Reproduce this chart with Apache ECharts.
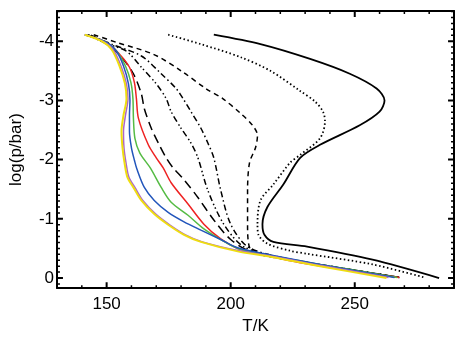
<!DOCTYPE html>
<html>
<head>
<meta charset="utf-8">
<script src="https://cdn.jsdelivr.net/npm/echarts@6/dist/echarts.min.js"></script>
<style>
	html, body { margin: 0; padding: 0; background: #fff; }
	#chart { width: 463px; height: 340px; }
</style>
</head>
<body>
<div id="chart"></div>
<script>
	// tick positions
	var xMajorTicks = [150, 200, 250];
	var xMinorTicks = [140, 160, 170, 180, 190, 210, 220, 230, 240, 260, 270, 280];
	var yMajorTicks = [-4, -3, -2, -1, 0];
	var yMinorTicks = [];
	for (var i = -45; i <= 1; i++) if (i % 10 !== 0) yMinorTicks.push(i / 10);

	// profiles: [T (K), log(p/bar)]
	var solidLine = [[193.2,-4.11],[212,-3.95],[232,-3.7],[248,-3.45],[258.8,-3.2],[262,-3.0],[260,-2.81],[252,-2.58],[236,-2.25],[228,-2.03],[221.2,-1.58],[214.8,-1.2],[212.8,-0.91],[213.6,-0.73],[217.2,-0.61],[230.8,-0.53],[257.2,-0.31],[284,0.0]];
	var dottedLine = [[174.8,-4.11],[188,-3.95],[204,-3.73],[216,-3.5],[228,-3.16],[234,-2.98],[237.2,-2.81],[238,-2.65],[236,-2.36],[228,-2.08],[224,-1.95],[217.2,-1.58],[212,-1.31],[210.8,-0.91],[211.2,-0.73],[214.8,-0.58],[224,-0.46],[230.8,-0.41],[257.2,-0.23],[278,-0.01]];
	var dashedLine = [[144.8,-4.11],[154,-3.98],[168.8,-3.78],[180,-3.5],[190,-3.2],[196.8,-3.03],[204,-2.78],[208.8,-2.58],[210.8,-2.41],[210,-2.2],[207.6,-1.95],[206.8,-1.48],[206.8,-0.91],[208,-0.48],[220,-0.33],[240,-0.2],[268,-0.01]];
	var dashDotLine = [[143.6,-4.1],[152,-3.95],[164,-3.75],[172,-3.45],[178,-3.2],[180.8,-3.03],[184,-2.81],[188,-2.53],[190.8,-2.28],[193.2,-2.03],[196,-1.48],[200,-0.91],[206.8,-0.53],[220,-0.35],[240,-0.2],[268,-0.01]];
	var dashDotDotLine = [[142.8,-4.1],[150,-3.96],[158,-3.83],[164,-3.56],[170,-3.28],[174,-3.03],[176,-2.81],[180,-2.53],[184,-2.28],[186.8,-2.03],[190.8,-1.48],[197.2,-0.91],[205.2,-0.53],[220,-0.35],[240,-0.2],[268,-0.01]];
	var longDashLine = [[142.4,-4.11],[150,-3.95],[156,-3.73],[160.8,-3.45],[164,-3.11],[165.2,-2.86],[168,-2.53],[171.2,-2.25],[174,-2.03],[176.8,-1.86],[181.2,-1.66],[186.8,-1.36],[193.2,-0.98],[200,-0.65],[208,-0.45],[228,-0.28],[268,-0.01]];
	var redLine = [[141.2,-4.11],[150,-3.98],[155.2,-3.78],[159.2,-3.56],[161.2,-3.3],[162,-3.03],[162.8,-2.7],[166.8,-2.25],[170,-2.03],[172.8,-1.86],[176,-1.61],[182.8,-1.25],[189.2,-0.91],[196,-0.66],[202.8,-0.5],[212,-0.4],[228,-0.26],[268,-0.01]];
	var greenLine = [[141.2,-4.11],[150,-3.98],[154.4,-3.81],[157.6,-3.58],[159.8,-3.3],[160.6,-3.03],[160.8,-2.7],[161.4,-2.36],[163.4,-2.11],[167.6,-1.86],[172,-1.53],[176,-1.28],[182.8,-1.06],[189.2,-0.83],[196,-0.65],[202.8,-0.5],[216,-0.38],[236,-0.23],[267.2,-0.01]];
	var blueLine = [[141.2,-4.11],[150,-3.98],[154,-3.83],[156.8,-3.58],[158.8,-3.28],[159.4,-3.0],[159.2,-2.75],[159.2,-2.48],[160,-2.2],[161.2,-1.99],[162.2,-1.84],[165.2,-1.53],[169.2,-1.31],[174.8,-1.11],[181.2,-0.95],[188,-0.81],[196,-0.65],[202.8,-0.51],[216,-0.39],[236,-0.23],[266,-0.01]];
	var purpleLine = [[141.2,-4.11],[148.4,-4.0],[152.6,-3.86],[155.8,-3.58],[158,-3.28],[158.6,-3.03],[157.6,-2.75],[156.8,-2.48],[157,-2.2],[157.8,-1.95],[159,-1.7],[161.4,-1.53],[164.6,-1.31],[169.8,-1.08],[175.4,-0.9],[181.8,-0.73],[188.6,-0.61],[203.4,-0.46],[216.6,-0.37],[236.6,-0.21],[263.6,-0.01]];
	var yellowLine = [[141.2,-4.11],[148,-4.0],[152,-3.86],[155.2,-3.58],[157.4,-3.28],[158,-3.03],[156.8,-2.75],[156,-2.48],[156.4,-2.2],[157.2,-1.95],[158.4,-1.7],[160.8,-1.53],[164,-1.31],[169.2,-1.08],[174.8,-0.9],[181.2,-0.73],[188,-0.61],[202.8,-0.45],[216,-0.36],[236,-0.2],[262.8,0.0]];

	var fontName = 'Liberation Sans, Arial, sans-serif';
	var xMin = 130, xMax = 290;
	var yMin = -4.51, yMax = 0.17;

	function profile(data, color, dash, width) {
		return {
			type: 'line',
			data: data,
			xAxisIndex: 0,
			yAxisIndex: 0,
			symbol: 'none',
			smooth: 0.3,
			lineStyle: { color: color, width: width || 1.5, type: dash || 'solid' }
		};
	}

	// inward ticks on all four sides as broken line segments (length in axis units)
	function tickLines(xTicks, yTicks, lenX, lenY, width) {
		var d = [];
		xTicks.forEach(function (v) {
			d.push([v, yMax], [v, yMax - lenY], null);
			d.push([v, yMin], [v, yMin + lenY], null);
		});
		yTicks.forEach(function (v) {
			d.push([xMin, v], [xMin + lenX, v], null);
			d.push([xMax, v], [xMax - lenX, v], null);
		});
		return {
			type: 'line',
			data: d,
			xAxisIndex: 0,
			yAxisIndex: 0,
			symbol: 'none',
			connectNulls: false,
			silent: true,
			clip: false,
			z: 5,
			lineStyle: { color: '#000', width: width }
		};
	}

	function frameAxis(pos, step, showLabel, extra) {
		var ax = {
			type: 'value',
			position: pos,
			minInterval: step,
			maxInterval: step,
			axisLine: { show: true, onZero: false, lineStyle: { color: '#000', width: 2 } },
			axisTick: { show: false },
			axisLabel: { show: showLabel, showMinLabel: false, showMaxLabel: false, color: '#000', fontSize: 17, fontFamily: fontName },
			splitLine: { show: false }
		};
		return Object.assign(ax, extra);
	}

	var xRange = { min: xMin, max: xMax };
	var yRange = { min: yMin, max: yMax, inverse: true };

	var option = {
		animation: false,
		backgroundColor: '#fff',
		grid: { left: 55, right: 9, top: 11, bottom: 47 },
		xAxis: [
			frameAxis('bottom', 50, true, Object.assign({
				name: 'T/K', nameLocation: 'middle', nameGap: 27,
				nameTextStyle: { color: '#000', fontSize: 17, fontFamily: fontName }
			}, xRange)),
			frameAxis('top', 50, false, xRange)
		],
		yAxis: [
			frameAxis('left', 1, true, Object.assign({
				name: 'log(p/bar)', nameLocation: 'middle', nameGap: 32,
				nameTextStyle: { color: '#000', fontSize: 17, fontFamily: fontName }
			}, yRange)),
			frameAxis('right', 1, false, yRange)
		],
		series: [
			profile(solidLine, '#000', 'solid', 1.8),
			profile(dottedLine, '#000', [1.5, 2.5], 1.8),
			profile(dashedLine, '#000', [5, 4]),
			profile(dashDotLine, '#000', [6, 3, 1.5, 3]),
			profile(dashDotDotLine, '#000', [6, 3, 1.5, 2.5, 1.5, 3]),
			profile(longDashLine, '#000', [9, 5]),
			profile(redLine, '#ee2222'),
			profile(greenLine, '#55bb44'),
			profile(blueLine, '#2255bb'),
			profile(purpleLine, '#aa66cc'),
			profile(yellowLine, '#eedd11', 'solid', 2),
			// major: ~6 px, minor: ~3 px
			tickLines(xMajorTicks, yMajorTicks, 2.4, 0.1, 2),
			tickLines(xMinorTicks, yMinorTicks, 1.2, 0.05, 1.5)
		]
	};
	option.xAxis[0].axisLabel.margin = 8;
	option.yAxis[0].axisLabel.margin = 3;

	var chart = echarts.init(document.getElementById('chart'));
	chart.setOption(option);
</script>
</body>
</html>
